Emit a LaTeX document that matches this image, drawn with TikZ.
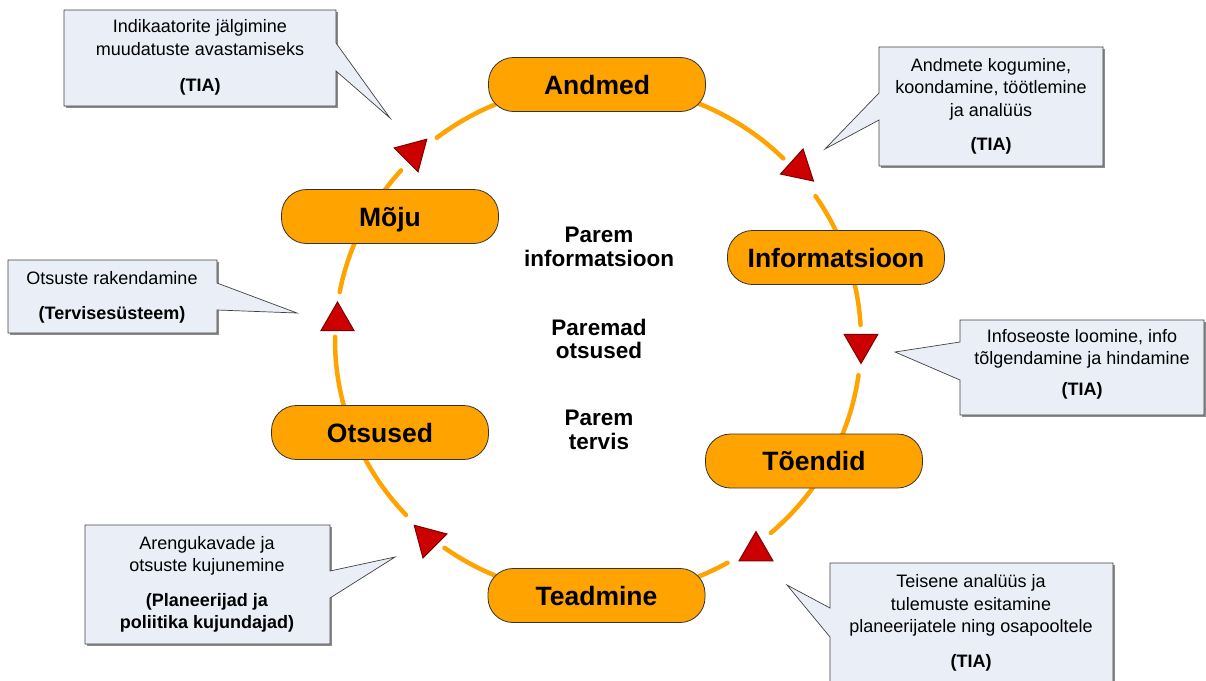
\documentclass[tikz,border=0pt]{standalone}
\usepackage{fontspec}
\setmainfont{Liberation Sans}
\usetikzlibrary{shapes.geometric}
\definecolor{orng}{RGB}{255,163,0}
\definecolor{callfill}{RGB}{234,239,247}
\definecolor{trired}{RGB}{204,0,0}
\definecolor{tridark}{RGB}{128,0,0}
\begin{document}
\begin{tikzpicture}[x=1pt,y=-1pt,
  stage/.style={draw=black!80, line width=0.8pt, fill=orng, rounded corners=25pt,
    minimum width=217pt, minimum height=54pt, inner sep=0pt, text height=19pt, text depth=0pt,
    font=\fontsize{26.5}{30}\selectfont\bfseries},
  ring/.style={draw=orng, line width=4.5pt, line cap=round},
  tri/.style={regular polygon, regular polygon sides=3, minimum size=39pt, inner sep=0pt,
    fill=trired, draw=tridark, line width=1pt},
  calloutbox/.style={fill=callfill, draw=black!75, line width=0.7pt, line join=miter},
  calloutshadow/.style={fill=black!45},
  calltext/.style={align=center, inner sep=0pt, font=\fontsize{18}{22.5}\selectfont},
  centertext/.style={align=center, inner sep=0pt, font=\fontsize{22.5}{23.5}\selectfont\bfseries}]

\useasboundingbox (0,0) rectangle (1206,680);

% ring
\draw[ring] plot[smooth, domain=45.2:127.8, samples=30] ({598+263*cos(\x)},{340-256*sin(\x)});
\draw[ring] plot[smooth, domain=138.5:169.2, samples=15] ({598+263*cos(\x)},{340-256*sin(\x)});
\draw[ring] plot[smooth, domain=179.3:223.1, samples=20] ({598+263*cos(\x)},{340-256*sin(\x)});
\draw[ring] plot[smooth, domain=234.3:299.5, samples=25] ({598+263*cos(\x)},{340-256*sin(\x)});
\draw[ring] plot[smooth, domain=311.1:352.1, samples=20] ({598+263*cos(\x)},{340-256*sin(\x)});
\draw[ring] plot[smooth, domain=3.4:34.2, samples=15] ({598+263*cos(\x)},{340-256*sin(\x)});

% stages
\node[stage] (andmed) at (597,84.5) {Andmed};
\node[stage] (moju) at (390,216.5) {Mõju};
\node[stage] (info) at (836,257.5) {Informatsioon};
\node[stage] (otsused) at (380,432.5) {Otsused};
\node[stage] (toendid) at (814,461) {Tõendid};
\node[stage] (teadmine) at (596.5,595.5) {Teadmine};

% triangles
\node[tri, rotate=-12] (t1) at (799,168) {};
\node[tri, rotate=180] (t2) at (861,344) {};
\node[tri] (t3) at (756,551) {};
\node[tri, rotate=45] (t4) at (428,539) {};
\node[tri, minimum size=38pt] (t5) at (337.5,321) {};
\node[tri, rotate=-45] (t6) at (413,153) {};

% centre texts
\node[centertext] (m1) at (599,247) {Parem\\informatsioon};
\node[centertext] (m2) at (599,339) {Paremad\\otsused};
\node[centertext] (m3) at (599,430) {Parem\\tervis};

% callout 1 (top left)
\fill[calloutshadow] (65.5,11.5) rectangle (337.5,107.5);
\draw[calloutbox] (64,10) -- (336,10) -- (336,43) -- (390,118) -- (336,71) -- (336,106) -- (64,106) -- cycle;
\node[calltext] (c1) at (200,57.5) {Indikaatorite jälgimine\\muudatuste avastamiseks\\[14pt]\textbf{(TIA)}};

% callout 2 (top right)
\fill[calloutshadow] (880.5,48.5) rectangle (1104.5,167.5);
\draw[calloutbox] (879,47) -- (1103,47) -- (1103,166) -- (879,166) -- (879,120) -- (825,149) -- (879,93) -- cycle;
\node[calltext] (c2) at (991,106.5) {Andmete kogumine,\\koondamine, töötlemine\\ja analüüs\\[12pt]\textbf{(TIA)}};

% callout 3 (right)
\fill[calloutshadow] (961.5,321.5) rectangle (1206,416.5);
\draw[calloutbox] (960,320) -- (1204,320) -- (1204,415) -- (960,415) -- (960,380) -- (895,352) -- (960,342) -- cycle;
\node[calltext] (c3) at (1082,364) {Infoseoste loomine, info\\tõlgendamine ja hindamine\\[8pt]\textbf{(TIA)}};

% callout 4 (left)
\fill[calloutshadow] (9.5,261.5) rectangle (218.5,334.5);
\draw[calloutbox] (8,260) -- (217,260) -- (217,283) -- (297,313) -- (217,310) -- (217,333) -- (8,333) -- cycle;
\node[calltext] (c4) at (112,297.5) {Otsuste rakendamine\\[12pt]\textbf{(Tervisesüsteem)}};

% callout 5 (lower left)
\fill[calloutshadow] (86.5,526.5) rectangle (331.5,645.5);
\draw[calloutbox] (85,525) -- (330,525) -- (330,571) -- (395,557) -- (330,598) -- (330,644) -- (85,644) -- cycle;
\node[calltext] (c5) at (207,584.5) {Arengukavade ja\\otsuste kujunemine\\[12pt]\textbf{(Planeerijad ja}\\\textbf{poliitika kujundajad)}};

% callout 6 (lower right)
\fill[calloutshadow] (831.5,564.5) rectangle (1114.5,696.5);
\draw[calloutbox] (830,563) -- (1113,563) -- (1113,695) -- (830,695) -- (830,637) -- (787,585) -- (830,608) -- cycle;
\node[calltext] (c6) at (971,623) {Teisene analüüs ja\\tulemuste esitamine\\planeerijatele ning osapooltele\\[12pt]\textbf{(TIA)}};

\end{tikzpicture}
\end{document}
